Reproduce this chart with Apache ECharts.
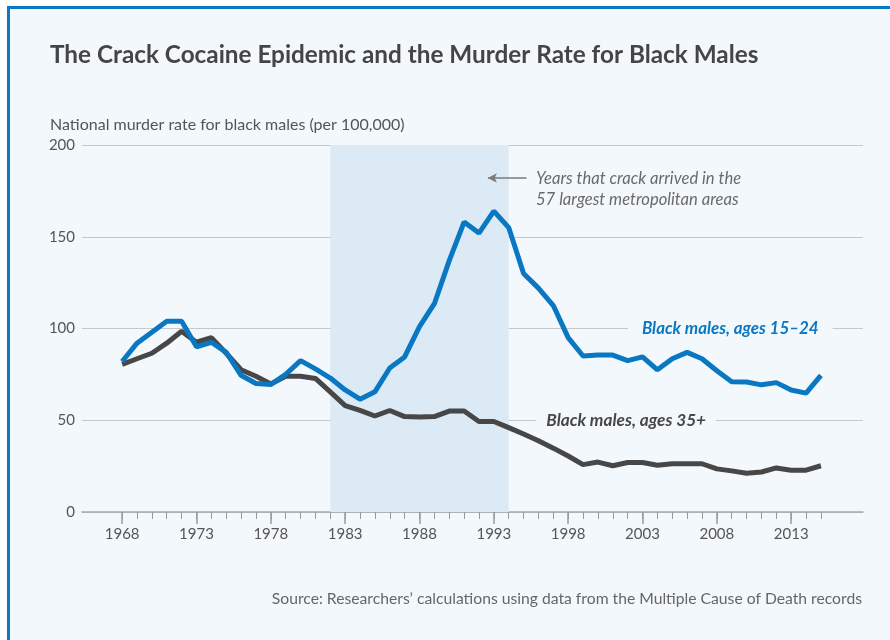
<!DOCTYPE html>
<html>
<head>
<meta charset="utf-8">
<script src="https://cdn.jsdelivr.net/npm/echarts@6/dist/echarts.min.js"></script>
<style>
  html, body { margin: 0; padding: 0; background: #ffffff; }
  #frame {
    position: absolute; left: 7px; top: 6px; width: 883px; height: 634px;
    border-left: 3px solid #0a78c3; border-top: 3px solid #0a78c3;
    background: #f3f8fc;
  }
  #chart { position: absolute; left: 0; top: 0; width: 890px; height: 640px; }
</style>
</head>
<body>
<div id="frame"></div>
<div id="chart"></div>
<script>
// years of the series
const years = [];
for (let y = 1968; y <= 2015; y++) years.push(y);

// murder rate, black males aged 15-24 (per 100,000)
const young = [
  82, 92, 98, 104, 104, 90, 92.5, 87, 74.5, 70, 69.5, 75,
  82.5, 78, 73, 66.5, 61.5, 65.5, 78.5, 84.5, 101, 113.5, 137, 158,
  152, 164, 155, 130, 122, 112.5, 95, 85, 85.5, 85.5, 82.5, 84.5,
  77.5, 83.5, 87, 83.5, 77, 71, 70.8, 69.3, 70.5, 66.5, 64.8, 74.5
];

// murder rate, black males aged 35+ (per 100,000)
const older = [
  80.5, 83.5, 86.5, 92, 98.5, 92.5, 95, 86.5, 77.5, 74, 69.8, 74,
  74, 72.8, 65.5, 58, 55.4, 52.3, 55.3, 52, 51.8, 52, 55, 55,
  49.3, 49.3, 46, 42.5, 38.8, 34.8, 30.5, 25.8, 27.2, 25.2, 27, 27,
  25.5, 26.3, 26.3, 26.3, 23.5, 22.4, 21.1, 21.8, 24, 22.8, 22.8, 25.2
];

const majorYears = [1968, 1973, 1978, 1983, 1988, 1993, 1998, 2003, 2008, 2013];
const crackYears = [1982, 1994];
const yTicks = [0, 50, 100, 150, 200];

const font = 'Lato';
const chart = echarts.init(document.getElementById('chart'));

const option = {
  backgroundColor: 'transparent',
  animation: false,
  textStyle: { fontFamily: font },
  grid: { left: 82, right: 27, top: 145, bottom: 128 },
  xAxis: [
    {
      type: 'value', min: 1965.3, max: 2017.83,
      axisLine: { show: true, lineStyle: { color: '#a9a9a9', width: 1.5 } },
      axisTick: { show: true, length: 12, customValues: majorYears, lineStyle: { color: '#9a9a9a', width: 1.5 } },
      axisLabel: { customValues: majorYears, margin: 15, color: '#555', fontSize: 15, fontFamily: font,
        formatter: v => String(v) },
      splitLine: { show: false }
    },
    {
      type: 'value', min: 1965.3, max: 2017.83, position: 'bottom',
      axisLine: { show: false },
      axisTick: { show: true, length: 7, customValues: years, lineStyle: { color: '#9a9a9a', width: 1 } },
      axisLabel: { show: false },
      splitLine: { show: false }
    }
  ],
  yAxis: {
    type: 'value', min: 0, max: 200, interval: 50,
    axisLine: { show: false }, axisTick: { show: false },
    axisLabel: { color: '#555', fontSize: 15, margin: 7, fontFamily: font,
      formatter: v => yTicks.includes(v) ? String(v) : '' },
    splitLine: { lineStyle: { color: '#c6c8cb', width: 1.2 } }
  },
  graphic: [
    { type: 'text', left: 50, top: 43,
      style: { text: 'The Crack Cocaine Epidemic and the Murder Rate for Black Males',
        fill: '#454545', fontSize: 24.3, fontWeight: 'bold', fontFamily: font } },
    { type: 'text', left: 50, top: 117,
      style: { text: 'National murder rate for black males (per 100,000)',
        fill: '#555', fontSize: 16, fontFamily: font } },
    { type: 'text', left: 536, top: 168,
      style: { text: 'Years that crack arrived in the\n57 largest metropolitan areas',
        fill: '#6a6a6a', fontSize: 16.6, fontStyle: 'italic', lineHeight: 21, fontFamily: font } },
    { type: 'text', right: 28, top: 591,
      style: { text: 'Source: Researchers\u2019 calculations using data from the Multiple Cause of Death records',
        fill: '#666', fontSize: 15.7, fontFamily: font } }
  ],
  series: [
    {
      name: 'Black males, ages 35+', type: 'line',
      data: years.map((y, i) => [y, older[i]]),
      showSymbol: false, z: 3,
      lineStyle: { color: '#474747', width: 5 },
      markArea: {
        silent: true,
        itemStyle: { color: '#dbeaf5' },
        data: [[{ xAxis: crackYears[0] }, { xAxis: crackYears[1] }]]
      },
      markPoint: {
        symbol: 'circle', symbolSize: 0, silent: true,
        data: [{ coord: [2001.9, 50] }],
        label: { show: true, position: 'inside', formatter: 'Black males, ages 35+',
          color: '#474747', fontSize: 17.2, fontWeight: 'bold', fontStyle: 'italic', fontFamily: font,
          backgroundColor: '#f3f8fc', padding: [3, 10] }
      }
    },
    {
      name: 'Black males, ages 15\u201324', type: 'line',
      data: years.map((y, i) => [y, young[i]]),
      showSymbol: false, z: 4,
      lineStyle: { color: '#0a77c2', width: 5 },
      markPoint: {
        symbol: 'circle', symbolSize: 0, silent: true,
        data: [{ coord: [2008.9, 100] }],
        label: { show: true, position: 'inside', formatter: 'Black males, ages 15\u201324',
          color: '#0a77c2', fontSize: 16.9, fontWeight: 'bold', fontStyle: 'italic', fontFamily: font,
          backgroundColor: '#f3f8fc', padding: [3, 14] }
      },
      markLine: {
        silent: true, symbol: ['none', 'arrow'], symbolSize: [7, 9],
        lineStyle: { color: '#7a7a7a', width: 1.5, type: 'solid' },
        label: { show: false },
        data: [[{ coord: [1995.2, 182] }, { coord: [1992.6, 182] }]]
      }
    }
  ]
};

chart.setOption(option);
</script>
</body>
</html>
